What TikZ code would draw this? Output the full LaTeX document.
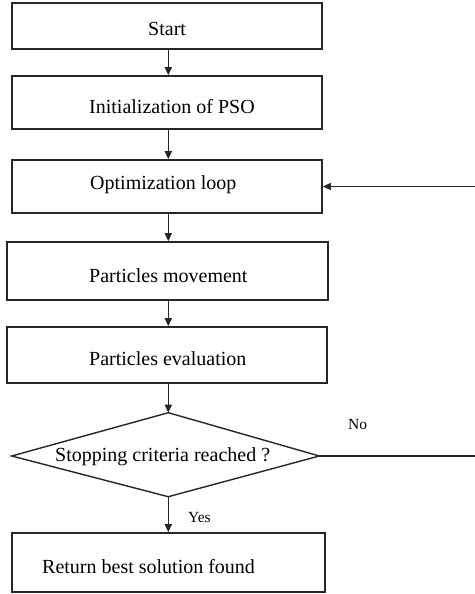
\documentclass[tikz,border=0pt]{standalone}
\usepackage{fontspec}
\setmainfont{Liberation Serif}
\usetikzlibrary{arrows.meta}
\begin{document}
\begin{tikzpicture}[x=1pt,y=-1pt,
  box/.style={draw=black!85, line width=1.6pt, inner sep=0pt},
  dec/.style={draw=black!85, line width=1.4pt, line join=miter},
  txt/.style={anchor=base west, inner sep=0pt, font=\fontsize{20}{22}\selectfont},
  arr/.style={draw=black!85, line width=1.4pt, -{Triangle[length=8pt,width=7pt]}},
  lbl/.style={anchor=base west, inner sep=0pt, font=\fontsize{15.5}{17}\selectfont}]
\useasboundingbox (0,0) rectangle (474,594);
\node[box, minimum width=310pt, minimum height=46pt] (start) at (167,26) {};
\node[box, minimum width=310pt, minimum height=53pt] (init) at (167,102.5) {};
\node[box, minimum width=310pt, minimum height=53pt] (opt) at (167,186.5) {};
\node[box, minimum width=321pt, minimum height=58pt] (move) at (167.5,271) {};
\node[box, minimum width=320pt, minimum height=56pt] (eval) at (167,355) {};
\coordinate (dtop) at (168.3,412.7);
\coordinate (dright) at (319.3,456);
\coordinate (dbot) at (168.3,496.7);
\coordinate (dleft) at (11.7,456);
\draw[dec] (dtop) -- (dright) -- (dbot) -- (dleft) -- cycle;
\node[box, minimum width=313pt, minimum height=59pt] (ret) at (168.5,562.5) {};
\node[txt] (t-start) at (148,35.5) {Start};
\node[txt] (t-init) at (89,113.3) {Initialization of PSO};
\node[txt] (t-opt) at (90,189.3) {Optimization loop};
\node[txt] (t-move) at (89,282.7) {Particles movement};
\node[txt] (t-eval) at (89,365.7) {Particles evaluation};
\node[txt] (t-dia) at (55,461.7) {Stopping criteria reached ?};
\node[txt] (t-ret) at (42,573) {Return best solution found};
\node[lbl] (no) at (348,429) {No};
\node[lbl] (yes) at (188,522.7) {Yes};
\coordinate (fb1) at (476,456);
\coordinate (fb2) at (476,186.5);
\draw[arr] (start.south -| dtop) -- (init.north -| dtop);
\draw[arr] (init.south -| dtop) -- (opt.north -| dtop);
\draw[arr] (opt.south -| dtop) -- (move.north -| dtop);
\draw[arr] (move.south -| dtop) -- (eval.north -| dtop);
\draw[arr] (eval.south -| dtop) -- (dtop);
\draw[arr] (dbot) -- (ret.north -| dbot);
\draw[arr] (dright) -- (fb1) -- (fb2) -- (opt.east);
\end{tikzpicture}
\end{document}
